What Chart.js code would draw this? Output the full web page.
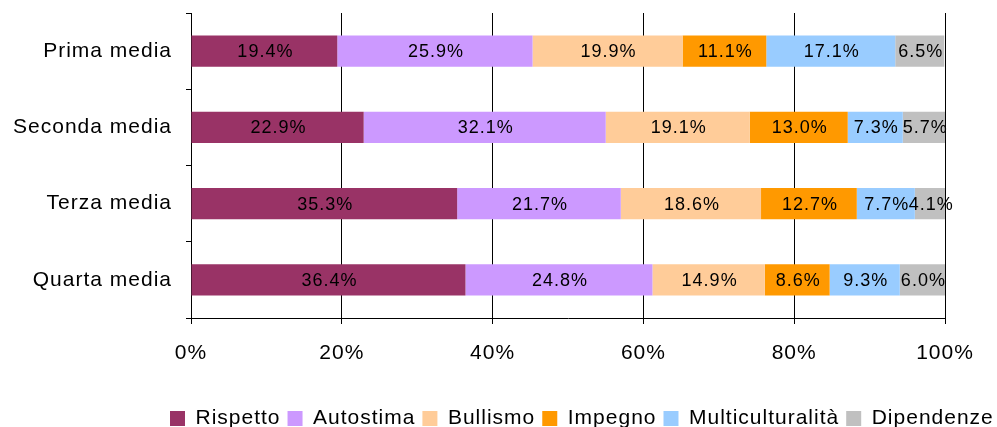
<!DOCTYPE html>
<html>
<head>
<meta charset="utf-8">
<script src="https://cdn.jsdelivr.net/npm/chart.js@4/dist/chart.umd.min.js"></script>
<style>
  html, body { margin: 0; padding: 0; overflow: hidden; background: #fff; }
</style>
</head>
<body>
<canvas id="grafico" width="997" height="439"></canvas>
<script>
const classi = ["Prima media", "Seconda media", "Terza media", "Quarta media"];
const rispetto = [19.4, 22.9, 35.3, 36.4];
const autostima = [25.9, 32.1, 21.7, 24.8];
const bullismo = [19.9, 19.1, 18.6, 14.9];
const impegno = [11.1, 13.0, 12.7, 8.6];
const multicultura = [17.1, 7.3, 7.7, 9.3];
const dipendenze = [6.5, 5.7, 4.1, 6.0];

const FONT = "'Liberation Sans', Arial, sans-serif";

// spaziatura tra le lettere come nell'originale
const spaziatura = {
  id: "spaziatura",
  beforeUpdate(chart) { chart.ctx.letterSpacing = "1px"; },
  beforeDraw(chart) { chart.ctx.letterSpacing = "1px"; },
  afterLayout(chart) {
    // legenda spostata a destra come nell'immagine
    const lg = chart.legend;
    const pad = lg.options.labels.padding;
    lg.left = 170 - pad;
    lg.right = 170 + lg.lineWidths[0];
  }
};

// percentuali al centro di ogni barra
const etichette = {
  id: "etichette",
  afterDatasetsDraw(chart) {
    const ctx = chart.ctx;
    ctx.save();
    ctx.font = "18px " + FONT;
    ctx.fillStyle = "#000";
    ctx.textAlign = "center";
    ctx.textBaseline = "middle";
    chart.data.datasets.forEach((ds, i) => {
      chart.getDatasetMeta(i).data.forEach((bar, j) => {
        const p = bar.getCenterPoint();
        ctx.fillText(ds.data[j].toFixed(1) + "%", p.x + 1, p.y + 1);
      });
    });
    ctx.restore();
  }
};

const serie = (label, data, colore) => ({
  label: label,
  data: data,
  backgroundColor: colore,
  borderWidth: 0,
  barPercentage: 0.41,
  categoryPercentage: 1
});

new Chart(document.getElementById("grafico"), {
  type: "bar",
  data: {
    labels: classi,
    datasets: [
      serie("Rispetto", rispetto, "#993366"),
      serie("Autostima", autostima, "#cc99ff"),
      serie("Bullismo", bullismo, "#ffcc99"),
      serie("Impegno", impegno, "#ff9900"),
      serie("Multiculturalità", multicultura, "#99ccff"),
      serie("Dipendenze", dipendenze, "#c0c0c0")
    ]
  },
  options: {
    indexAxis: "y",
    responsive: false,
    devicePixelRatio: 1,
    animation: false,
    layout: { padding: { top: 13, right: 52, left: 0, bottom: 0 } },
    scales: {
      x: {
        stacked: true,
        min: 0,
        max: 100,
        ticks: {
          stepSize: 20,
          padding: 17,
          color: "#000",
          font: { size: 21, family: FONT },
          callback: (v) => v + "%"
        },
        grid: { color: "#000", lineWidth: 1, tickLength: 6 },
        border: { color: "#000", width: 1 },
        afterFit: (s) => { s.height = 83; }
      },
      y: {
        stacked: true,
        ticks: {
          padding: 14,
          color: "#000",
          font: { size: 21, family: FONT }
        },
        grid: { drawOnChartArea: false, color: "#000", tickLength: 5 },
        border: { color: "#000", width: 1 },
        afterFit: (s) => {
          s.width = 191;
          s.paddingTop = 0;
          s.paddingBottom = 0;
        }
      }
    },
    plugins: {
      legend: {
        position: "bottom",
        labels: {
          boxWidth: 15,
          boxHeight: 15,
          padding: 7,
          color: "#000",
          font: { size: 21, family: FONT }
        }
      },
      tooltip: { enabled: false }
    }
  },
  plugins: [spaziatura, etichette]
});
</script>
</body>
</html>
